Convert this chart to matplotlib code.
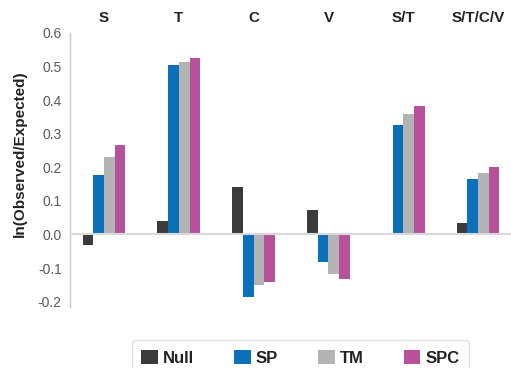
import numpy as np
import matplotlib.pyplot as plt
from matplotlib.patches import Patch

plt.rcParams['font.family'] = ['Liberation Sans', 'DejaVu Sans']

categories = ['S', 'T', 'C', 'V', 'S/T', 'S/T/C/V']
series_names = ['Null', 'SP', 'TM', 'SPC']
null_vals = [-0.030, 0.040, 0.142, 0.074, 0.000, 0.035]
sp_vals = [0.177, 0.505, -0.186, -0.083, 0.325, 0.164]
tm_vals = [0.231, 0.513, -0.149, -0.119, 0.358, 0.184]
spc_vals = [0.267, 0.526, -0.141, -0.134, 0.384, 0.200]
colors = ['#3b3b3b', '#0b6fba', '#b3b3b3', '#b8519b']
yticks = [-0.2, -0.1, 0.0, 0.1, 0.2, 0.3, 0.4, 0.5, 0.6]

fig = plt.figure(figsize=(5.11, 3.68), dpi=100)
ax = fig.add_axes([70 / 511, 1 - 307 / 368, 1 - 70 / 511, 274 / 368])

x = np.arange(len(categories))
w = 0.143
for k, (vals, col) in enumerate(zip([null_vals, sp_vals, tm_vals, spc_vals], colors)):
    ax.bar(x + (k - 1.5) * w, vals, width=w, color=col, linewidth=0, zorder=2)

ax.axhline(0, color='#d9d9d9', linewidth=1.5, zorder=3)
ax.set_xlim(-0.455, 5.44)
ax.set_ylim(-0.216, 0.6)
ax.set_yticks(yticks)
ax.set_yticklabels([f'{t:.1f}' for t in yticks], fontsize=10, color='#595959')
ax.tick_params(axis='y', length=0, pad=6)
ax.set_xticks([])
for s in ['top', 'right', 'bottom']:
    ax.spines[s].set_visible(False)
ax.spines['left'].set_color('#c8c8c8')
ax.spines['left'].set_linewidth(1.0)

ax.set_ylabel('ln(Observed/Expected)', fontsize=11, fontweight='bold', color='#222222')
ax.yaxis.set_label_coords(-0.097, 0.56)

for i, c in enumerate(categories):
    ax.text(i, 1.055, c, transform=ax.get_xaxis_transform(), ha='center', va='center',
            fontsize=11, fontweight='bold', color='#222222')

handles = [Patch(facecolor=c, edgecolor='none') for c in colors]
leg = fig.legend(handles, series_names, loc='upper center', bbox_to_anchor=(0.588, 1 - 332 / 368),
                 ncol=4, prop={'weight': 'bold', 'size': 12}, handlelength=1.0, handleheight=1.0,
                 handletextpad=0.3, columnspacing=2.4, borderpad=0.55, frameon=True, fancybox=True)
leg.get_frame().set_edgecolor('#d9d9d9')
leg.get_frame().set_linewidth(1.0)
for t in leg.get_texts():
    t.set_color('#222222')

fig.savefig('out.png', dpi=100)
